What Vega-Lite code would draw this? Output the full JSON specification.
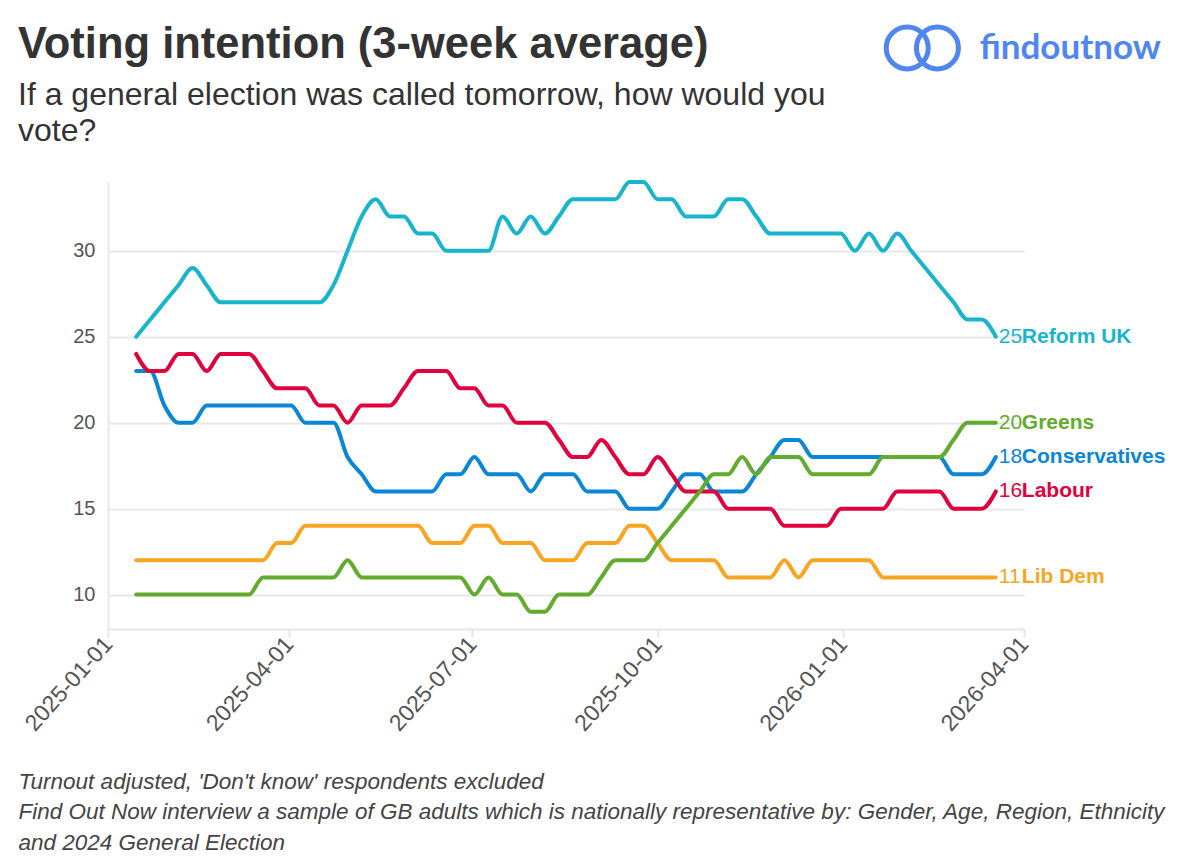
{
  "$schema": "https://vega.github.io/schema/vega-lite/v6.json",
  "width": 916,
  "height": 447,
  "autosize": {"type": "none"},
  "padding": {"left": 108, "top": 182, "right": 176, "bottom": 239},
  "background": "white",
  "config": {
    "view": {"stroke": null},
    "font": "Liberation Sans"
  },
  "title": {
    "text": "Voting intention (3-week average)",
    "subtitle": ["If a general election was called tomorrow, how would you", "vote?"],
    "anchor": "start",
    "frame": "group",
    "dx": -90,
    "offset": -131.5,
    "font": "Liberation Sans",
    "fontSize": 43.5,
    "fontWeight": "bold",
    "color": "#333333",
    "subtitleFont": "Liberation Sans",
    "subtitleFontSize": 32,
    "subtitleColor": "#333333",
    "subtitleLineHeight": 36,
    "subtitlePadding": 13
  },
  "data": {
    "values": [
      {"date":"2025-01-15","party":"Reform UK","pct":25},{"date":"2025-01-22","party":"Reform UK","pct":26},{"date":"2025-01-29","party":"Reform UK","pct":27},{"date":"2025-02-05","party":"Reform UK","pct":28},{"date":"2025-02-12","party":"Reform UK","pct":29},{"date":"2025-02-19","party":"Reform UK","pct":28},{"date":"2025-02-26","party":"Reform UK","pct":27},{"date":"2025-03-05","party":"Reform UK","pct":27},{"date":"2025-03-12","party":"Reform UK","pct":27},{"date":"2025-03-19","party":"Reform UK","pct":27},{"date":"2025-03-26","party":"Reform UK","pct":27},{"date":"2025-04-02","party":"Reform UK","pct":27},{"date":"2025-04-09","party":"Reform UK","pct":27},{"date":"2025-04-16","party":"Reform UK","pct":27},{"date":"2025-04-23","party":"Reform UK","pct":28},{"date":"2025-04-30","party":"Reform UK","pct":30},{"date":"2025-05-07","party":"Reform UK","pct":32},{"date":"2025-05-14","party":"Reform UK","pct":33},{"date":"2025-05-21","party":"Reform UK","pct":32},{"date":"2025-05-28","party":"Reform UK","pct":32},{"date":"2025-06-04","party":"Reform UK","pct":31},{"date":"2025-06-11","party":"Reform UK","pct":31},{"date":"2025-06-18","party":"Reform UK","pct":30},{"date":"2025-06-25","party":"Reform UK","pct":30},{"date":"2025-07-02","party":"Reform UK","pct":30},{"date":"2025-07-09","party":"Reform UK","pct":30},{"date":"2025-07-16","party":"Reform UK","pct":32},{"date":"2025-07-23","party":"Reform UK","pct":31},{"date":"2025-07-30","party":"Reform UK","pct":32},{"date":"2025-08-06","party":"Reform UK","pct":31},{"date":"2025-08-13","party":"Reform UK","pct":32},{"date":"2025-08-20","party":"Reform UK","pct":33},{"date":"2025-08-27","party":"Reform UK","pct":33},{"date":"2025-09-03","party":"Reform UK","pct":33},{"date":"2025-09-10","party":"Reform UK","pct":33},{"date":"2025-09-17","party":"Reform UK","pct":34},{"date":"2025-09-24","party":"Reform UK","pct":34},{"date":"2025-10-01","party":"Reform UK","pct":33},{"date":"2025-10-08","party":"Reform UK","pct":33},{"date":"2025-10-15","party":"Reform UK","pct":32},{"date":"2025-10-22","party":"Reform UK","pct":32},{"date":"2025-10-29","party":"Reform UK","pct":32},{"date":"2025-11-05","party":"Reform UK","pct":33},{"date":"2025-11-12","party":"Reform UK","pct":33},{"date":"2025-11-19","party":"Reform UK","pct":32},{"date":"2025-11-26","party":"Reform UK","pct":31},{"date":"2025-12-03","party":"Reform UK","pct":31},{"date":"2025-12-10","party":"Reform UK","pct":31},{"date":"2025-12-17","party":"Reform UK","pct":31},{"date":"2025-12-24","party":"Reform UK","pct":31},{"date":"2025-12-31","party":"Reform UK","pct":31},{"date":"2026-01-07","party":"Reform UK","pct":30},{"date":"2026-01-14","party":"Reform UK","pct":31},{"date":"2026-01-21","party":"Reform UK","pct":30},{"date":"2026-01-28","party":"Reform UK","pct":31},{"date":"2026-02-04","party":"Reform UK","pct":30},{"date":"2026-02-11","party":"Reform UK","pct":29},{"date":"2026-02-18","party":"Reform UK","pct":28},{"date":"2026-02-25","party":"Reform UK","pct":27},{"date":"2026-03-04","party":"Reform UK","pct":26},{"date":"2026-03-11","party":"Reform UK","pct":26},{"date":"2026-03-18","party":"Reform UK","pct":25},
      {"date":"2025-01-15","party":"Conservatives","pct":23},{"date":"2025-01-22","party":"Conservatives","pct":23},{"date":"2025-01-29","party":"Conservatives","pct":21},{"date":"2025-02-05","party":"Conservatives","pct":20},{"date":"2025-02-12","party":"Conservatives","pct":20},{"date":"2025-02-19","party":"Conservatives","pct":21},{"date":"2025-02-26","party":"Conservatives","pct":21},{"date":"2025-03-05","party":"Conservatives","pct":21},{"date":"2025-03-12","party":"Conservatives","pct":21},{"date":"2025-03-19","party":"Conservatives","pct":21},{"date":"2025-03-26","party":"Conservatives","pct":21},{"date":"2025-04-02","party":"Conservatives","pct":21},{"date":"2025-04-09","party":"Conservatives","pct":20},{"date":"2025-04-16","party":"Conservatives","pct":20},{"date":"2025-04-23","party":"Conservatives","pct":20},{"date":"2025-04-30","party":"Conservatives","pct":18},{"date":"2025-05-07","party":"Conservatives","pct":17},{"date":"2025-05-14","party":"Conservatives","pct":16},{"date":"2025-05-21","party":"Conservatives","pct":16},{"date":"2025-05-28","party":"Conservatives","pct":16},{"date":"2025-06-04","party":"Conservatives","pct":16},{"date":"2025-06-11","party":"Conservatives","pct":16},{"date":"2025-06-18","party":"Conservatives","pct":17},{"date":"2025-06-25","party":"Conservatives","pct":17},{"date":"2025-07-02","party":"Conservatives","pct":18},{"date":"2025-07-09","party":"Conservatives","pct":17},{"date":"2025-07-16","party":"Conservatives","pct":17},{"date":"2025-07-23","party":"Conservatives","pct":17},{"date":"2025-07-30","party":"Conservatives","pct":16},{"date":"2025-08-06","party":"Conservatives","pct":17},{"date":"2025-08-13","party":"Conservatives","pct":17},{"date":"2025-08-20","party":"Conservatives","pct":17},{"date":"2025-08-27","party":"Conservatives","pct":16},{"date":"2025-09-03","party":"Conservatives","pct":16},{"date":"2025-09-10","party":"Conservatives","pct":16},{"date":"2025-09-17","party":"Conservatives","pct":15},{"date":"2025-09-24","party":"Conservatives","pct":15},{"date":"2025-10-01","party":"Conservatives","pct":15},{"date":"2025-10-08","party":"Conservatives","pct":16},{"date":"2025-10-15","party":"Conservatives","pct":17},{"date":"2025-10-22","party":"Conservatives","pct":17},{"date":"2025-10-29","party":"Conservatives","pct":16},{"date":"2025-11-05","party":"Conservatives","pct":16},{"date":"2025-11-12","party":"Conservatives","pct":16},{"date":"2025-11-19","party":"Conservatives","pct":17},{"date":"2025-11-26","party":"Conservatives","pct":18},{"date":"2025-12-03","party":"Conservatives","pct":19},{"date":"2025-12-10","party":"Conservatives","pct":19},{"date":"2025-12-17","party":"Conservatives","pct":18},{"date":"2025-12-24","party":"Conservatives","pct":18},{"date":"2025-12-31","party":"Conservatives","pct":18},{"date":"2026-01-07","party":"Conservatives","pct":18},{"date":"2026-01-14","party":"Conservatives","pct":18},{"date":"2026-01-21","party":"Conservatives","pct":18},{"date":"2026-01-28","party":"Conservatives","pct":18},{"date":"2026-02-04","party":"Conservatives","pct":18},{"date":"2026-02-11","party":"Conservatives","pct":18},{"date":"2026-02-18","party":"Conservatives","pct":18},{"date":"2026-02-25","party":"Conservatives","pct":17},{"date":"2026-03-04","party":"Conservatives","pct":17},{"date":"2026-03-11","party":"Conservatives","pct":17},{"date":"2026-03-18","party":"Conservatives","pct":18},
      {"date":"2025-01-15","party":"Labour","pct":24},{"date":"2025-01-22","party":"Labour","pct":23},{"date":"2025-01-29","party":"Labour","pct":23},{"date":"2025-02-05","party":"Labour","pct":24},{"date":"2025-02-12","party":"Labour","pct":24},{"date":"2025-02-19","party":"Labour","pct":23},{"date":"2025-02-26","party":"Labour","pct":24},{"date":"2025-03-05","party":"Labour","pct":24},{"date":"2025-03-12","party":"Labour","pct":24},{"date":"2025-03-19","party":"Labour","pct":23},{"date":"2025-03-26","party":"Labour","pct":22},{"date":"2025-04-02","party":"Labour","pct":22},{"date":"2025-04-09","party":"Labour","pct":22},{"date":"2025-04-16","party":"Labour","pct":21},{"date":"2025-04-23","party":"Labour","pct":21},{"date":"2025-04-30","party":"Labour","pct":20},{"date":"2025-05-07","party":"Labour","pct":21},{"date":"2025-05-14","party":"Labour","pct":21},{"date":"2025-05-21","party":"Labour","pct":21},{"date":"2025-05-28","party":"Labour","pct":22},{"date":"2025-06-04","party":"Labour","pct":23},{"date":"2025-06-11","party":"Labour","pct":23},{"date":"2025-06-18","party":"Labour","pct":23},{"date":"2025-06-25","party":"Labour","pct":22},{"date":"2025-07-02","party":"Labour","pct":22},{"date":"2025-07-09","party":"Labour","pct":21},{"date":"2025-07-16","party":"Labour","pct":21},{"date":"2025-07-23","party":"Labour","pct":20},{"date":"2025-07-30","party":"Labour","pct":20},{"date":"2025-08-06","party":"Labour","pct":20},{"date":"2025-08-13","party":"Labour","pct":19},{"date":"2025-08-20","party":"Labour","pct":18},{"date":"2025-08-27","party":"Labour","pct":18},{"date":"2025-09-03","party":"Labour","pct":19},{"date":"2025-09-10","party":"Labour","pct":18},{"date":"2025-09-17","party":"Labour","pct":17},{"date":"2025-09-24","party":"Labour","pct":17},{"date":"2025-10-01","party":"Labour","pct":18},{"date":"2025-10-08","party":"Labour","pct":17},{"date":"2025-10-15","party":"Labour","pct":16},{"date":"2025-10-22","party":"Labour","pct":16},{"date":"2025-10-29","party":"Labour","pct":16},{"date":"2025-11-05","party":"Labour","pct":15},{"date":"2025-11-12","party":"Labour","pct":15},{"date":"2025-11-19","party":"Labour","pct":15},{"date":"2025-11-26","party":"Labour","pct":15},{"date":"2025-12-03","party":"Labour","pct":14},{"date":"2025-12-10","party":"Labour","pct":14},{"date":"2025-12-17","party":"Labour","pct":14},{"date":"2025-12-24","party":"Labour","pct":14},{"date":"2025-12-31","party":"Labour","pct":15},{"date":"2026-01-07","party":"Labour","pct":15},{"date":"2026-01-14","party":"Labour","pct":15},{"date":"2026-01-21","party":"Labour","pct":15},{"date":"2026-01-28","party":"Labour","pct":16},{"date":"2026-02-04","party":"Labour","pct":16},{"date":"2026-02-11","party":"Labour","pct":16},{"date":"2026-02-18","party":"Labour","pct":16},{"date":"2026-02-25","party":"Labour","pct":15},{"date":"2026-03-04","party":"Labour","pct":15},{"date":"2026-03-11","party":"Labour","pct":15},{"date":"2026-03-18","party":"Labour","pct":16},
      {"date":"2025-01-15","party":"Lib Dem","pct":12},{"date":"2025-01-22","party":"Lib Dem","pct":12},{"date":"2025-01-29","party":"Lib Dem","pct":12},{"date":"2025-02-05","party":"Lib Dem","pct":12},{"date":"2025-02-12","party":"Lib Dem","pct":12},{"date":"2025-02-19","party":"Lib Dem","pct":12},{"date":"2025-02-26","party":"Lib Dem","pct":12},{"date":"2025-03-05","party":"Lib Dem","pct":12},{"date":"2025-03-12","party":"Lib Dem","pct":12},{"date":"2025-03-19","party":"Lib Dem","pct":12},{"date":"2025-03-26","party":"Lib Dem","pct":13},{"date":"2025-04-02","party":"Lib Dem","pct":13},{"date":"2025-04-09","party":"Lib Dem","pct":14},{"date":"2025-04-16","party":"Lib Dem","pct":14},{"date":"2025-04-23","party":"Lib Dem","pct":14},{"date":"2025-04-30","party":"Lib Dem","pct":14},{"date":"2025-05-07","party":"Lib Dem","pct":14},{"date":"2025-05-14","party":"Lib Dem","pct":14},{"date":"2025-05-21","party":"Lib Dem","pct":14},{"date":"2025-05-28","party":"Lib Dem","pct":14},{"date":"2025-06-04","party":"Lib Dem","pct":14},{"date":"2025-06-11","party":"Lib Dem","pct":13},{"date":"2025-06-18","party":"Lib Dem","pct":13},{"date":"2025-06-25","party":"Lib Dem","pct":13},{"date":"2025-07-02","party":"Lib Dem","pct":14},{"date":"2025-07-09","party":"Lib Dem","pct":14},{"date":"2025-07-16","party":"Lib Dem","pct":13},{"date":"2025-07-23","party":"Lib Dem","pct":13},{"date":"2025-07-30","party":"Lib Dem","pct":13},{"date":"2025-08-06","party":"Lib Dem","pct":12},{"date":"2025-08-13","party":"Lib Dem","pct":12},{"date":"2025-08-20","party":"Lib Dem","pct":12},{"date":"2025-08-27","party":"Lib Dem","pct":13},{"date":"2025-09-03","party":"Lib Dem","pct":13},{"date":"2025-09-10","party":"Lib Dem","pct":13},{"date":"2025-09-17","party":"Lib Dem","pct":14},{"date":"2025-09-24","party":"Lib Dem","pct":14},{"date":"2025-10-01","party":"Lib Dem","pct":13},{"date":"2025-10-08","party":"Lib Dem","pct":12},{"date":"2025-10-15","party":"Lib Dem","pct":12},{"date":"2025-10-22","party":"Lib Dem","pct":12},{"date":"2025-10-29","party":"Lib Dem","pct":12},{"date":"2025-11-05","party":"Lib Dem","pct":11},{"date":"2025-11-12","party":"Lib Dem","pct":11},{"date":"2025-11-19","party":"Lib Dem","pct":11},{"date":"2025-11-26","party":"Lib Dem","pct":11},{"date":"2025-12-03","party":"Lib Dem","pct":12},{"date":"2025-12-10","party":"Lib Dem","pct":11},{"date":"2025-12-17","party":"Lib Dem","pct":12},{"date":"2025-12-24","party":"Lib Dem","pct":12},{"date":"2025-12-31","party":"Lib Dem","pct":12},{"date":"2026-01-07","party":"Lib Dem","pct":12},{"date":"2026-01-14","party":"Lib Dem","pct":12},{"date":"2026-01-21","party":"Lib Dem","pct":11},{"date":"2026-01-28","party":"Lib Dem","pct":11},{"date":"2026-02-04","party":"Lib Dem","pct":11},{"date":"2026-02-11","party":"Lib Dem","pct":11},{"date":"2026-02-18","party":"Lib Dem","pct":11},{"date":"2026-02-25","party":"Lib Dem","pct":11},{"date":"2026-03-04","party":"Lib Dem","pct":11},{"date":"2026-03-11","party":"Lib Dem","pct":11},{"date":"2026-03-18","party":"Lib Dem","pct":11},
      {"date":"2025-01-15","party":"Greens","pct":10},{"date":"2025-01-22","party":"Greens","pct":10},{"date":"2025-01-29","party":"Greens","pct":10},{"date":"2025-02-05","party":"Greens","pct":10},{"date":"2025-02-12","party":"Greens","pct":10},{"date":"2025-02-19","party":"Greens","pct":10},{"date":"2025-02-26","party":"Greens","pct":10},{"date":"2025-03-05","party":"Greens","pct":10},{"date":"2025-03-12","party":"Greens","pct":10},{"date":"2025-03-19","party":"Greens","pct":11},{"date":"2025-03-26","party":"Greens","pct":11},{"date":"2025-04-02","party":"Greens","pct":11},{"date":"2025-04-09","party":"Greens","pct":11},{"date":"2025-04-16","party":"Greens","pct":11},{"date":"2025-04-23","party":"Greens","pct":11},{"date":"2025-04-30","party":"Greens","pct":12},{"date":"2025-05-07","party":"Greens","pct":11},{"date":"2025-05-14","party":"Greens","pct":11},{"date":"2025-05-21","party":"Greens","pct":11},{"date":"2025-05-28","party":"Greens","pct":11},{"date":"2025-06-04","party":"Greens","pct":11},{"date":"2025-06-11","party":"Greens","pct":11},{"date":"2025-06-18","party":"Greens","pct":11},{"date":"2025-06-25","party":"Greens","pct":11},{"date":"2025-07-02","party":"Greens","pct":10},{"date":"2025-07-09","party":"Greens","pct":11},{"date":"2025-07-16","party":"Greens","pct":10},{"date":"2025-07-23","party":"Greens","pct":10},{"date":"2025-07-30","party":"Greens","pct":9},{"date":"2025-08-06","party":"Greens","pct":9},{"date":"2025-08-13","party":"Greens","pct":10},{"date":"2025-08-20","party":"Greens","pct":10},{"date":"2025-08-27","party":"Greens","pct":10},{"date":"2025-09-03","party":"Greens","pct":11},{"date":"2025-09-10","party":"Greens","pct":12},{"date":"2025-09-17","party":"Greens","pct":12},{"date":"2025-09-24","party":"Greens","pct":12},{"date":"2025-10-01","party":"Greens","pct":13},{"date":"2025-10-08","party":"Greens","pct":14},{"date":"2025-10-15","party":"Greens","pct":15},{"date":"2025-10-22","party":"Greens","pct":16},{"date":"2025-10-29","party":"Greens","pct":17},{"date":"2025-11-05","party":"Greens","pct":17},{"date":"2025-11-12","party":"Greens","pct":18},{"date":"2025-11-19","party":"Greens","pct":17},{"date":"2025-11-26","party":"Greens","pct":18},{"date":"2025-12-03","party":"Greens","pct":18},{"date":"2025-12-10","party":"Greens","pct":18},{"date":"2025-12-17","party":"Greens","pct":17},{"date":"2025-12-24","party":"Greens","pct":17},{"date":"2025-12-31","party":"Greens","pct":17},{"date":"2026-01-07","party":"Greens","pct":17},{"date":"2026-01-14","party":"Greens","pct":17},{"date":"2026-01-21","party":"Greens","pct":18},{"date":"2026-01-28","party":"Greens","pct":18},{"date":"2026-02-04","party":"Greens","pct":18},{"date":"2026-02-11","party":"Greens","pct":18},{"date":"2026-02-18","party":"Greens","pct":18},{"date":"2026-02-25","party":"Greens","pct":19},{"date":"2026-03-04","party":"Greens","pct":20},{"date":"2026-03-11","party":"Greens","pct":20},{"date":"2026-03-18","party":"Greens","pct":20}
    ]
  },
  "layer": [
    {
      "encoding": {
        "x": {
          "field": "date",
          "type": "temporal",
          "scale": {"type": "utc", "domain": ["2025-01-01", "2026-04-01"]},
          "axis": {
            "values": [1735689600000, 1743465600000, 1751328000000, 1759276800000, 1767225600000, 1775001600000],
            "labelExpr": "utcFormat(datum.value, '%Y-%m-%d')",
            "grid": false,
            "domainColor": "#e6e6e6",
            "domainWidth": 2,
            "ticks": true,
            "tickColor": "#e6e6e6",
            "tickWidth": 2,
            "tickSize": 8,
            "labelAngle": -48,
            "labelFontSize": 23,
            "labelColor": "#555555",
            "labelPadding": 3,
            "title": [
              "Turnout adjusted, 'Don't know' respondents excluded",
              "Find Out Now interview a sample of GB adults which is nationally representative by: Gender, Age, Region, Ethnicity",
              "and 2024 General Election"
            ],
            "titleFont": "Liberation Sans",
            "titleFontStyle": "italic",
            "titleFontWeight": "normal",
            "titleFontSize": 22.5,
            "titleColor": "#444444",
            "titleAlign": "left",
            "titleBaseline": "alphabetic",
            "titleAngle": 0,
            "titleX": -90,
            "titleY": 159,
            "titleLineHeight": 30.5
          }
        },
        "y": {
          "field": "pct",
          "type": "quantitative",
          "scale": {"domain": [8, 34], "nice": false, "zero": false},
          "axis": {
            "values": [10, 15, 20, 25, 30],
            "grid": true,
            "gridColor": "#e8e8e8",
            "gridWidth": 2,
            "domain": true,
            "domainColor": "#e8e8e8",
            "domainWidth": 2,
            "ticks": false,
            "labelFontSize": 20,
            "labelColor": "#555555",
            "labelPadding": 13,
            "title": null
          }
        },
        "color": {
          "field": "party",
          "type": "nominal",
          "scale": {
            "domain": ["Reform UK", "Conservatives", "Labour", "Lib Dem", "Greens"],
            "range": ["#17b5cb", "#0a86d6", "#e2003c", "#f9a521", "#63ab2c"]
          },
          "legend": null
        }
      },
      "layer": [
        {
          "mark": {"type": "line", "interpolate": "monotone", "strokeWidth": 4, "strokeCap": "round", "strokeJoin": "round"}
        },
        {
          "transform": [
            {"joinaggregate": [{"op": "max", "field": "date", "as": "maxd"}], "groupby": ["party"]},
            {"filter": "time(datum.date) === time(datum.maxd)"}
          ],
          "mark": {"type": "text", "align": "left", "baseline": "middle", "dx": 3, "fontSize": 21, "font": "Liberation Sans"},
          "encoding": {"text": {"field": "pct", "type": "quantitative"}}
        },
        {
          "transform": [
            {"joinaggregate": [{"op": "max", "field": "date", "as": "maxd"}], "groupby": ["party"]},
            {"filter": "time(datum.date) === time(datum.maxd)"}
          ],
          "mark": {"type": "text", "align": "left", "baseline": "middle", "dx": 26, "fontSize": 21, "fontWeight": "bold", "font": "Liberation Sans"},
          "encoding": {"text": {"field": "party", "type": "nominal"}}
        }
      ]
    },
    {
      "data": {"values": [{"logo": "ring"}]},
      "mark": {"type": "point", "shape": "circle", "filled": false, "strokeWidth": 5, "size": 1760, "opacity": 1, "clip": false},
      "encoding": {
        "x": {"datum": 1769990400000, "type": "temporal", "scale": {"type": "utc"}},
        "y": {"datum": 41.8, "type": "quantitative"},
        "color": {"value": "#4f86f2"}
      }
    },
    {
      "data": {"values": [{"logo": "ring"}]},
      "mark": {"type": "point", "shape": "circle", "filled": false, "strokeWidth": 5, "size": 1760, "opacity": 1, "clip": false},
      "encoding": {
        "x": {"datum": 1771286400000, "type": "temporal", "scale": {"type": "utc"}},
        "y": {"datum": 41.8, "type": "quantitative"},
        "color": {"value": "#4f86f2"}
      }
    },
    {
      "data": {"values": [{"logo": "findoutnow"}]},
      "mark": {"type": "text", "align": "left", "baseline": "middle", "fontSize": 35, "fontWeight": "bold", "font": "Lato", "clip": false},
      "encoding": {
        "x": {"datum": 1773100800000, "type": "temporal", "scale": {"type": "utc"}},
        "y": {"datum": 41.8, "type": "quantitative"},
        "text": {"field": "logo", "type": "nominal"},
        "color": {"value": "#4f86f2"}
      }
    }
  ]
}
